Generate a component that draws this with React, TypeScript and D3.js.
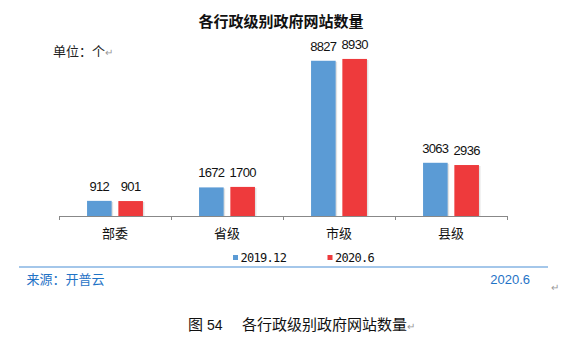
import React from 'react'
import * as d3 from 'd3'

const categories = ['部委', '省级', '市级', '县级']
const series2019 = [912, 1672, 8827, 3063]
const series2020 = [901, 1700, 8930, 2936]
const seriesNames = ['2019.12', '2020.6']
const colors = ['#5B9BD5', '#EE3A3C']

const W = 567
const H = 351
const cjk = '"Noto Sans CJK SC", "Microsoft YaHei", sans-serif'
const arial = "Arial, 'Liberation Sans', sans-serif"

function App() {
  const x = d3.scaleBand().domain(categories).range([59, 507]).paddingInner(0).paddingOuter(0)
  const y = d3.scaleLinear().domain([0, 10000]).range([217, 40])
  const inner = d3
    .scaleBand()
    .domain(seriesNames)
    .range([0, x.bandwidth()])
    .paddingInner(0.214)
    .paddingOuter(0.896)
  const data = [series2019, series2020]
  const ticks = [...categories.map(c => x(c) as number), 507]

  return (
    <svg
      width={W}
      height={H}
      style={{position: 'absolute', left: 0, top: 0, background: '#fff'}}>
      <text x={281} y={27} textAnchor="middle" fontSize={15} fontWeight="bold" fontFamily={cjk} fill="#111">
        各行政级别政府网站数量
      </text>
      <text x={53} y={56} fontSize={13} fontFamily={cjk} fill="#222">
        单位：个<tspan fill="#999" fontSize={10}>↵</tspan>
      </text>

      {data.map((vals, si) =>
        vals.map((v, i) => {
          const bx = (x(categories[i]) as number) + (inner(seriesNames[si]) as number)
          const bw = inner.bandwidth()
          return (
            <g key={`${si}-${i}`}>
              <rect x={bx + 1.5} y={y(v) + 1} width={bw} height={217 - y(v) - 1} fill="#e2e2e2" />
              <rect x={bx} y={y(v)} width={bw} height={217 - y(v)} fill={colors[si]} />
              <text
                x={bx + bw / 2}
                y={y(v) - 10}
                textAnchor="middle"
                fontSize={13}
                letterSpacing={-0.7}
                fontFamily={arial}
                fill="#111">
                {v}
              </text>
            </g>
          )
        })
      )}

      <line x1={59} x2={507} y1={216.5} y2={216.5} stroke="#888" />
      {ticks.map((t, i) => (
        <line key={i} x1={t + 0.5} x2={t + 0.5} y1={216} y2={220} stroke="#888" />
      ))}
      {categories.map(c => (
        <text
          key={c}
          x={(x(c) as number) + x.bandwidth() / 2}
          y={238}
          textAnchor="middle"
          fontSize={13}
          fontFamily={cjk}
          fill="#111">
          {c}
        </text>
      ))}

      {seriesNames.map((s, i) => (
        <g key={s} transform={`translate(${i === 0 ? 233 : 327.5},255)`}>
          <rect x={0} y={0} width={5} height={5} fill={colors[i]} />
          <text x={7.5} y={6.5} fontSize={12} fontFamily="'DejaVu Sans Mono', monospace" fill="#111" letterSpacing={-0.7}>
            {s}
          </text>
        </g>
      ))}

      <line x1={19} x2={548} y1={267} y2={267} stroke="#4A8FD6" strokeWidth={1.2} />
      <text x={26.5} y={284} fontSize={13} fontFamily={cjk} fill="#1F73C6">
        来源：开普云
      </text>
      <text x={530} y={284} textAnchor="end" fontSize={13} fontFamily={arial} fill="#1F73C6">
        2020.6
      </text>
      <text x={551} y={291} fontSize={10} fill="#999">
        ↵
      </text>

      <text x={188} y={330} fontSize={15} fontFamily={cjk} fill="#111">
        图
      </text>
      <text x={207} y={330} fontSize={14} fontFamily={arial} fill="#111">
        54
      </text>
      <text x={242} y={330} fontSize={15} fontFamily={cjk} fill="#111">
        各行政级别政府网站数量<tspan fill="#999" fontSize={10}>↵</tspan>
      </text>
    </svg>
  )
}

export default App
